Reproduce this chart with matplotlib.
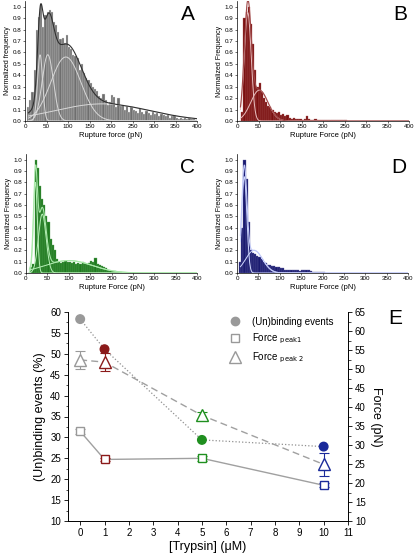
import numpy as np
import matplotlib
matplotlib.use('Agg')
import matplotlib.pyplot as plt
from matplotlib.ticker import MultipleLocator

plt.rcParams['font.family'] = ['Liberation Sans', 'DejaVu Sans']

# histogram data, bins of 5 pN starting at 5 pN
bin_width = 5
hist_a = [0.12, 0.18, 0.25, 0.45, 0.80, 0.91, 1.02, 0.82, 0.93, 0.95,
          0.97, 0.95, 0.87, 0.84, 0.78, 0.72, 0.73, 0.68, 0.75, 0.65,
          0.63, 0.58, 0.57, 0.55, 0.45, 0.50, 0.42, 0.38, 0.36, 0.33,
          0.30, 0.28, 0.26, 0.22, 0.20, 0.24, 0.18, 0.14, 0.17, 0.23,
          0.21, 0.12, 0.20, 0.13, 0.14, 0.10, 0.13, 0.08, 0.12, 0.10,
          0.09, 0.07, 0.11, 0.08, 0.06, 0.09, 0.07, 0.05, 0.08, 0.06,
          0.07, 0.04, 0.06, 0.05, 0.04, 0.05, 0.03, 0.04, 0.05, 0.03,
          0.02, 0.03, 0.02, 0.03, 0.02, 0.03, 0.02, 0.02, 0.01]
hist_b = [0.00, 0.08, 0.90, 0.95, 1.00, 0.85, 0.67, 0.45, 0.30, 0.33,
          0.25, 0.20, 0.17, 0.13, 0.12, 0.10, 0.08, 0.07, 0.08, 0.05,
          0.06, 0.04, 0.05, 0.03, 0.02, 0.03, 0.02, 0.02, 0.02, 0.01,
          0.02, 0.04, 0.02, 0.01, 0.01, 0.02, 0.01, 0.01, 0.01, 0.01,
          0.005, 0.005, 0.005, 0.005, 0.005, 0.005, 0.005, 0.005, 0.005, 0.005]
hist_c = [0.00, 0.05, 0.08, 1.00, 0.93, 0.77, 0.65, 0.60, 0.50, 0.45,
          0.30, 0.25, 0.20, 0.12, 0.10, 0.09, 0.10, 0.11, 0.10, 0.10,
          0.09, 0.10, 0.08, 0.09, 0.08, 0.10, 0.09, 0.08, 0.09, 0.11,
          0.10, 0.13, 0.08, 0.07, 0.06, 0.05, 0.04, 0.03, 0.02, 0.02,
          0.02, 0.01, 0.01, 0.01]
hist_d = [0.10, 0.40, 1.00, 0.83, 0.45, 0.20, 0.18, 0.17, 0.15, 0.14,
          0.12, 0.10, 0.09, 0.07, 0.07, 0.06, 0.06, 0.05, 0.05, 0.04,
          0.04, 0.03, 0.03, 0.03, 0.03, 0.03, 0.03, 0.03, 0.02, 0.03,
          0.03, 0.03, 0.03, 0.02, 0.01, 0.01, 0.01, 0.01, 0.005, 0.005]

# gaussian fit parameters (amplitude, centre, sigma)
fits_a = [(0.58, 35, 6), (0.58, 53, 13), (0.56, 95, 35), (0.15, 180, 110)]
fits_b = [(0.95, 25, 8), (0.27, 52, 20)]
fits_c = [(0.80, 22, 4.5), (0.52, 38, 9), (0.11, 100, 55)]
fits_d = [(0.85, 17, 6), (0.20, 40, 20)]

# panel E data
trypsin = [0, 1, 5, 10]
events = [58.3, 51.1, 29.4, 27.8]
peak1 = [33.6, 26.2, 26.5, 19.4]
peak1_err = [0.6, 0.5, 0.6, 0.5]
peak2 = [52.4, 51.8, 37.8, 24.9]
peak2_err = [2.3, 2.4, 1.0, 3.0]
point_colors = ['#999999', '#8b1a1a', '#1f8f1f', '#1a2a9a']

W, H = 416, 556
fig = plt.figure(figsize=(W / 100, H / 100), dpi=100)


def hist_panel(rect, values, fits, color, edge, fit_color, sum_color,
               ylabel, xlabel, letter):
    ax = fig.add_axes(rect)
    left = [bin_width + i * bin_width for i in range(len(values))]
    ax.bar(left, values, width=bin_width, align='edge', color=color,
           edgecolor=edge, linewidth=0.25)
    x = np.linspace(8, 400, 400)
    total = np.zeros_like(x)
    for a, c, s in fits:
        g = a * np.exp(-(x - c) ** 2 / (2 * s ** 2))
        total += g
        ax.plot(x, g, color=fit_color, lw=0.7)
    ax.plot(x, total, color=sum_color, lw=0.8)
    ax.set_xlim(0, 400)
    ax.set_ylim(0, 1.05)
    ax.xaxis.set_major_locator(MultipleLocator(50))
    ax.yaxis.set_major_locator(MultipleLocator(0.1))
    ax.tick_params(labelsize=4.5, length=1.5, width=0.4, pad=1)
    ax.set_ylabel(ylabel, fontsize=5, labelpad=1)
    ax.set_xlabel(xlabel, fontsize=5.5, labelpad=2)
    for sp in ['top', 'right']:
        ax.spines[sp].set_visible(False)
    for sp in ['left', 'bottom']:
        ax.spines[sp].set_linewidth(0.5)
    ax.text(0.99, 0.97, letter, transform=ax.transAxes, fontsize=15,
            ha='right', va='top')
    return ax


hist_panel([25 / W, 1 - 121 / H, 172 / W, 120 / H], hist_a, fits_a,
           '#6e6e6e', '#e0e0e0', '#d8d8d8', '#303030',
           'Normalized frequency', 'Rupture force (pN)', 'A')
hist_panel([237 / W, 1 - 121 / H, 172 / W, 120 / H], hist_b, fits_b,
           '#7a1010', '#b06060', '#e8c0c0', '#a04848',
           'Normalized Frequency', 'Rupture Force (pN)', 'B')
hist_panel([26 / W, 1 - 273 / H, 171 / W, 119 / H], hist_c, fits_c,
           '#1e7a1e', '#60a860', '#b8f0b8', '#a8e8a8',
           'Normalized Frequency', 'Rupture Force (pN)', 'C')
hist_panel([237 / W, 1 - 273 / H, 171 / W, 119 / H], hist_d, fits_d,
           '#1a1a70', '#6060a0', '#d0d8ff', '#c0c8f8',
           'Normalized Frequency', 'Rupture Force (pN)', 'D')

# panel E
ax = fig.add_axes([68 / W, 1 - 521 / H, 280 / W, 209 / H])
ax2 = ax.twinx()

ax.plot(trypsin, events, ':', color='#909090', lw=0.9, zorder=2)
ax.scatter(trypsin, events, s=38, c=point_colors, zorder=3)

ax2.plot(trypsin, peak1, '-', color='#a0a0a0', lw=1.0, zorder=2)
ax2.plot(trypsin, peak2, '--', color='#a0a0a0', lw=1.0, dashes=(5, 3), zorder=2)
for i in range(len(trypsin)):
    c = point_colors[i]
    ax2.errorbar(trypsin[i], peak1[i], yerr=peak1_err[i], fmt='none',
                 ecolor=c, elinewidth=0.8, capsize=3.5, capthick=0.8)
    ax2.plot(trypsin[i], peak1[i], 's', ms=6, mfc='white', mec=c, mew=1.0)
    ax2.errorbar(trypsin[i], peak2[i], yerr=peak2_err[i], fmt='none',
                 ecolor=c, elinewidth=0.8, capsize=3.5, capthick=0.8)
    ax2.plot(trypsin[i], peak2[i], '^', ms=8, mfc='white', mec=c, mew=1.0)

ax.set_xlim(-0.5, 11)
ax.set_ylim(10, 60)
ax2.set_ylim(10, 65)
ax.xaxis.set_major_locator(MultipleLocator(1))
ax.yaxis.set_major_locator(MultipleLocator(5))
ax.yaxis.set_minor_locator(MultipleLocator(2.5))
ax2.yaxis.set_major_locator(MultipleLocator(5))
ax2.yaxis.set_minor_locator(MultipleLocator(2.5))
ax.tick_params(labelsize=7, length=3, width=0.6, pad=2)
ax.tick_params(which='minor', length=1.8, width=0.5)
ax2.tick_params(labelsize=7, length=3, width=0.6, pad=2)
ax2.tick_params(which='minor', length=1.8, width=0.5)
for a in (ax, ax2):
    a.spines['top'].set_visible(False)
    for sp in ['left', 'right', 'bottom']:
        a.spines[sp].set_linewidth(0.6)
ax.set_xlabel('[Trypsin] (\u03bcM)', fontsize=9, labelpad=2)
ax.set_ylabel('(Un)binding events (%)', fontsize=9, labelpad=3)
ax2.set_ylabel('Force (pN)', fontsize=9, rotation=270, labelpad=12)

# legend
h1, = ax.plot([], [], 'o', color='#999999', ms=6)
h2, = ax.plot([], [], 's', mfc='white', mec='#999999', ms=6)
h3, = ax.plot([], [], '^', mfc='white', mec='#999999', ms=8)
ax.legend([h1, h2, h3],
          ['(Un)binding events', 'Force $_{\\rm peak1}$', 'Force $_{\\rm peak\\ 2}$'],
          loc='upper right', bbox_to_anchor=(0.98, 1.02), frameon=False,
          fontsize=7, handletextpad=0.8, labelspacing=0.5)

fig.text(395 / W, 1 - 318 / H, 'E', fontsize=15, ha='center', va='center')

fig.savefig('out.png', dpi=100)
